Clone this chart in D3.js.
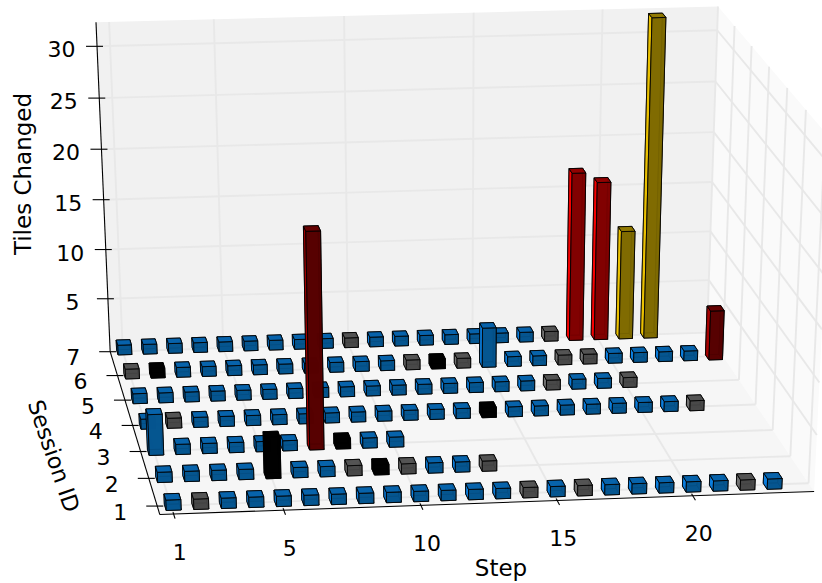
<!DOCTYPE html>
<html><head><meta charset="utf-8">
<script src="https://cdn.jsdelivr.net/npm/d3@7"></script>
<style>html,body{margin:0;padding:0;background:#fff}svg{display:block}text{font-family:"DejaVu Sans";fill:#000}</style>
</head><body><svg id="c" width="822" height="583"></svg>
<script>
// ---- data ----
const stepTicks = [1, 5, 10, 15, 20];
const sessionTicks = [1, 2, 3, 4, 5, 6, 7];
const tileTicks = [5, 10, 15, 20, 25, 30];
const session1Colors = "b g b b b b b b b b b b b g b g b b b b b g b".split(" ");
const session1Heights = [1,1,1,1,1,1,1,1,1,1,1,1,1,1,1,1,1,1,1,1,1,1,1];
const session2Colors = "b b b b k b b g k g b b g".split(" ");
const session2Heights = [1,1,1,1,4,1,1,1,1,1,1,1,1];
const session3Colors = "b b b b b b d k b b".split(" ");
const session3Heights = [4,1,1,1,1,1,21,1,1,1];
const session4Colors = "b g b b b b b b b b b b b k b b b b b b b g".split(" ");
const session4Heights = [1,1,1,1,1,1,1,1,1,1,1,1,1,1,1,1,1,1,1,1,1,1];
const session5Colors = "b b b b b b b b b b b b b b b b g b b g".split(" ");
const session5Heights = [1,1,1,1,1,1,1,1,1,1,1,1,1,1,1,1,1,1,1,1];
const session6Colors = "g k b b b b b b b b b g k g b b b g g b b b b d".split(" ");
const session6Heights = [1,1,1,1,1,1,1,1,1,1,1,1,1,1,4,1,1,1,1,1,1,1,1,5];
const session7Colors = "b b b b b b b b b g b b b b b b b g r r y y".split(" ");
const session7Heights = [1,1,1,1,1,1,1,1,1,1,1,1,1,1,1,1,1,1,17,16,11,32];
const sessions = [
  [session1Colors, session1Heights], [session2Colors, session2Heights],
  [session3Colors, session3Heights], [session4Colors, session4Heights],
  [session5Colors, session5Heights], [session6Colors, session6Heights],
  [session7Colors, session7Heights]];
const shades = {
  b: {front:"#04558f", top:"#0663ac", left:"#0a80e4", right:"#04477c"},
  g: {front:"#484848", top:"#545454", left:"#757575", right:"#3c3c3c"},
  k: {front:"#000000", top:"#000000", left:"#000000", right:"#000000"},
  r: {front:"#800000", top:"#930000", left:"#ff0000", right:"#6c0000"},
  d: {front:"#560000", top:"#650000", left:"#aa0000", right:"#480000"},
  y: {front:"#7f6a00", top:"#917a00", left:"#f3c800", right:"#6b5900"}
};
// ---- scene limits & camera ----
const xDom = [0.5, 24.5], yDom = [0.7, 7.0], zDom = [-0.45, 32.3];
const sx = d3.scaleLinear().domain(xDom).range([0, 1]);
const sy = d3.scaleLinear().domain(yDom).range([0, 1]);
const sz = d3.scaleLinear().domain(zDom).range([0, 1]);
const anchors = [
  [xDom[0],yDom[0],zDom[0],160,514],[xDom[1],yDom[0],zDom[0],814,492],
  [xDom[0],yDom[1],zDom[0],110,353],[xDom[1],yDom[1],zDom[0],707,331],
  [xDom[0],yDom[1],zDom[1],96,22],[xDom[1],yDom[1],zDom[1],718,7],
  [xDom[0],yDom[1],30,97,46],[xDom[0],yDom[1],5,108,299],
  [1,yDom[0],zDom[0],173,513.5],[20,yDom[0],zDom[0],693,496.5],
  [xDom[0],1,zDom[0],157.4,505.7],[xDom[0],4,zDom[0],133,425.7]
];
function fitCamera(pts){
  const n=11, A=Array.from({length:n},()=>new Array(n+1).fill(0));
  const add=(r,b)=>{for(let i=0;i<n;i++){for(let j=0;j<n;j++)A[i][j]+=r[i]*r[j];A[i][n]+=r[i]*b;}};
  pts.forEach(([a,b,c,u,v])=>{
    const X=sx(a),Y=sy(b),Z=sz(c);u/=800;v/=800;
    add([X,Y,Z,1,0,0,0,0,-u*X,-u*Y,-u*Z],u);
    add([0,0,0,0,X,Y,Z,1,-v*X,-v*Y,-v*Z],v);
  });
  for(let i=0;i<n;i++){
    let m=i;for(let k=i+1;k<n;k++)if(Math.abs(A[k][i])>Math.abs(A[m][i]))m=k;
    [A[i],A[m]]=[A[m],A[i]];
    for(let k=0;k<n;k++){if(k===i)continue;const f=A[k][i]/A[i][i];for(let j=i;j<=n;j++)A[k][j]-=f*A[i][j];}
  }
  return A.map((r,i)=>r[n]/r[i]);
}
const P = fitCamera(anchors);
function proj(x,y,z){
  const X=sx(x),Y=sy(y),Z=sz(z);
  const w=P[8]*X+P[9]*Y+P[10]*Z+1;
  return [800*(P[0]*X+P[1]*Y+P[2]*Z+P[3])/w, 800*(P[4]*X+P[5]*Y+P[6]*Z+P[7])/w];
}
// ---- drawing ----
const svg=d3.select("#c");
const poly=(pts,fill)=>svg.append("polygon").attr("points",pts.map(p=>p.join(",")).join(" ")).attr("fill",fill).attr("stroke","none");
const seg=(a,b,col,w)=>svg.append("line").attr("x1",a[0]).attr("y1",a[1]).attr("x2",b[0]).attr("y2",b[1]).attr("stroke",col).attr("stroke-width",w);
const [x0,x1]=xDom,[y0,y1]=yDom,[z0,z1]=zDom;
poly([proj(x0,y1,z0),proj(x1,y1,z0),proj(x1,y1,z1),proj(x0,y1,z1)],"#f1f1f1");
poly([proj(x1,y0,z0),proj(x1,y1,z0),proj(x1,y1,z1),proj(x1,y0,z1)],"#fafafa");
poly([proj(x0,y0,z0),proj(x1,y0,z0),proj(x1,y1,z0),proj(x0,y1,z0)],"#f6f6f6");
const gridC="#e8e8e8", gridW=1.9;
stepTicks.forEach(t=>{seg(proj(t,y0,z0),proj(t,y1,z0),gridC,gridW);seg(proj(t,y1,z0),proj(t,y1,z1),gridC,gridW);});
sessionTicks.forEach(t=>{seg(proj(x0,t,z0),proj(x1,t,z0),gridC,gridW);seg(proj(x1,t,z0),proj(x1,t,z1),gridC,gridW);});
tileTicks.forEach(t=>{seg(proj(x0,y1,t),proj(x1,y1,t),gridC,gridW);seg(proj(x1,y1,t),proj(x1,y0,t),gridC,gridW);});
// axes
seg(proj(x0,y0,z0),proj(x1,y0,z0),"#000",1.1);
seg(proj(x0,y0,z0),proj(x0,y1,z0),"#000",1.1);
seg(proj(x0,y1,z0),proj(x0,y1,z1),"#000",1.1);
const label=(txt,x,y,size,rot)=>{const t=svg.append("text").text(txt).attr("text-anchor","middle").attr("dominant-baseline","central").attr("font-size",size);
  t.attr("transform",`translate(${x},${y})`+(rot?` rotate(${rot})`:""));return t;};
const tickSize=22, titleSize=23;
stepTicks.forEach(t=>{const a=proj(t,y0,z0);seg(proj(t,y0+0.07,z0),proj(t,y0-0.16,z0),"#000",1.1);label(t,a[0]+6,a[1]+38,tickSize);});
sessionTicks.forEach(t=>{const a=proj(x0,t,z0);seg([a[0]-11,a[1]],[a[0]+6,a[1]],"#000",1.1);label(t,a[0]-37,a[1]+6,tickSize);});
tileTicks.forEach(t=>{const a=proj(x0,y1,t);seg([a[0]-11,a[1]],[a[0]+6,a[1]],"#000",1.1);label(t,a[0]-35.5,a[1]+3.5,tickSize);});
label("Step",501,568,titleSize);
label("Tiles Changed",23,174,titleSize,-90);
label("Session ID",54,456,22.5,71);
// bars, back to front
const dx=0.27, dy=0.11, rowShift=-0.22;
const bars=[];
sessions.forEach(([cols,hs],si)=>hs.forEach((h,i)=>bars.push({x:i+1,y:si+1+rowShift,h,c:cols[i]})));
bars.sort((a,b)=>d3.descending(a.y,b.y)||d3.descending(a.x,b.x));
bars.forEach(b=>{
  const xa=b.x-dx,xb=b.x+dx,ya=b.y-dy,yb=b.y+dy,s=shades[b.c];
  const face=(pts,fill)=>svg.append("polygon").attr("points",pts.map(p=>p.join(",")).join(" "))
    .attr("fill",fill).attr("fill-opacity",0.92).attr("stroke","#000").attr("stroke-opacity",0.85).attr("stroke-width",1).attr("stroke-linejoin","round");
  const p=(x,y,z)=>proj(x,y,z);
  face([p(xa,ya,0),p(xb,ya,0),p(xb,yb,0),p(xa,yb,0)],s.front);
  face([p(xa,yb,0),p(xb,yb,0),p(xb,yb,b.h),p(xa,yb,b.h)],s.front);
  face([p(xb,ya,0),p(xb,yb,0),p(xb,yb,b.h),p(xb,ya,b.h)],s.right);
  face([p(xa,ya,0),p(xa,yb,0),p(xa,yb,b.h),p(xa,ya,b.h)],s.left);
  face([p(xa,ya,0),p(xb,ya,0),p(xb,ya,b.h),p(xa,ya,b.h)],s.front);
  face([p(xa,ya,b.h),p(xb,ya,b.h),p(xb,yb,b.h),p(xa,yb,b.h)],s.top);
});
</script></body></html>
